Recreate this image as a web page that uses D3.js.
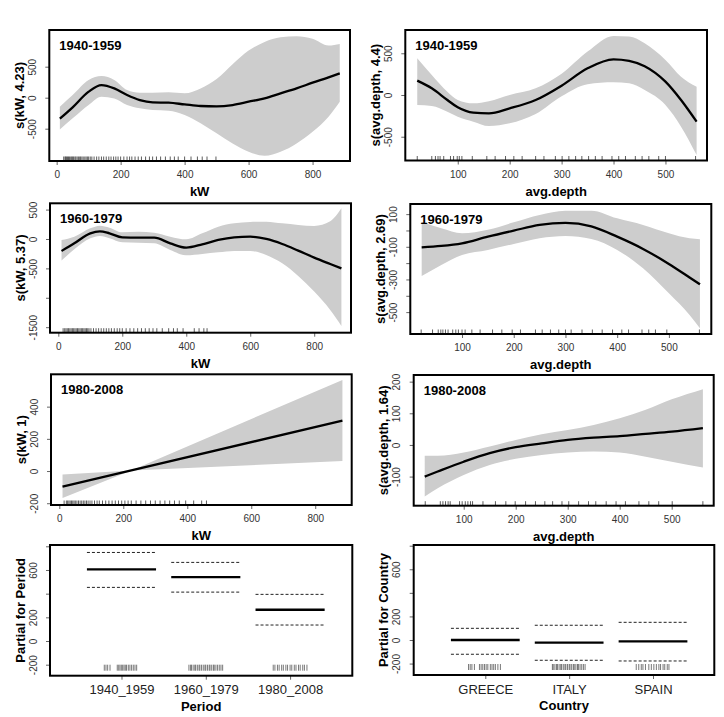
<!DOCTYPE html>
<html><head><meta charset="utf-8">
<script src="https://cdn.jsdelivr.net/npm/d3@7"></script>
<style>body{margin:0;background:#fff} text{font-family:"Liberation Sans",Arial,Helvetica,sans-serif}</style>
</head><body><svg id="c" width="724" height="717"></svg>
<script>
// ---------- data ----------
const periods = ["1940-1959", "1960-1979", "1980-2008"];
const kwTicks = [0, 200, 400, 600, 800];
const depthTicks = [100, 200, 300, 400, 500];

// kW smooth, 1940-1959
const kw1X   = [10, 50, 100, 140, 180, 220, 260, 300, 350, 400, 450, 500, 550, 600, 650, 700, 750, 800, 850, 885];
const kw1Fit = [-339, -156, 97, 204, 151, 43, -38, -75, -81, -108, -134, -140, -118, -65, -11, 70, 151, 242, 328, 392];
const kw1Up  = [-145, 43, 285, 349, 285, 124, 81, 81, 86, 70, 150, 300, 540, 760, 900, 975, 990, 950, 840, 866];
const kw1Lo  = [-511, -333, -118, 16, -11, -118, -172, -199, -210, -280, -414, -575, -737, -871, -935, -871, -737, -548, -306, -65];
const kw1Rug = [22, 26, 28, 31, 34, 37, 40, 44, 47, 50, 53, 57, 60, 64, 68, 72, 75, 79, 83, 88, 92, 96, 100, 105, 110, 117, 125, 132, 140, 147, 155, 163, 170, 178, 185, 192, 200, 210, 220, 228, 235, 245, 255, 265, 278, 290, 300, 312, 325, 340, 355, 368, 380, 400, 420, 440, 455, 470, 498];

// avg.depth smooth, 1940-1959
const dp1X   = [22, 50, 80, 100, 130, 160, 200, 250, 300, 350, 400, 430, 460, 500, 530, 560];
const dp1Fit = [172, 80, -60, -148, -212, -220, -160, -60, 112, 320, 428, 410, 345, 160, -60, -320];
const dp1Up  = [440, 240, 40, -60, -100, -75, 0, 80, 255, 520, 708, 700, 620, 420, 220, 100];
const dp1Lo  = [-120, -132, -200, -260, -320, -372, -340, -228, -15, 130, 152, 140, 60, -120, -380, -720];
const dp1Rug = [22, 50, 57, 62, 66, 73, 86, 92, 99, 103, 108, 128, 156, 172, 192, 208, 224, 250, 266, 288, 301, 314, 327, 339, 352, 365, 378, 397, 410, 423, 442, 455, 468, 487, 500, 558];

// kW smooth, 1960-1979
const kw2X   = [10, 50, 100, 130, 160, 200, 250, 300, 350, 400, 450, 500, 550, 600, 650, 700, 750, 800, 850, 885];
const kw2Fit = [-204, -74, 96, 130, 96, 28, 23, 23, -74, -147, -91, -17, 28, 40, 0, -85, -198, -317, -425, -499];
const kw2Up  = [-17, 40, 181, 227, 193, 113, 125, 108, 40, -6, 96, 210, 266, 289, 295, 266, 238, 221, 300, 521];
const kw2Lo  = [-368, -176, 11, 51, 11, -57, -62, -74, -187, -278, -255, -227, -204, -204, -272, -414, -629, -895, -1207, -1479];
const kw2Rug = [15, 20, 24, 28, 32, 36, 40, 44, 48, 52, 56, 60, 64, 68, 72, 76, 80, 84, 88, 92, 96, 102, 110, 118, 126, 134, 142, 150, 158, 166, 175, 184, 192, 200, 212, 224, 236, 248, 260, 272, 284, 296, 308, 325, 345, 360, 372, 390, 425, 440, 455, 465];

// avg.depth smooth, 1960-1979
const dp2X   = [22, 60, 100, 150, 200, 250, 300, 350, 400, 450, 500, 540, 560];
const dp2Fit = [-103, -95, -79, -38, -1, 34, 46, 25, -38, -113, -205, -288, -330];
const dp2Up  = [54, 13, -17, 5, 50, 95, 121, 121, 74, 34, -17, -48, -54];
const dp2Lo  = [-279, -211, -150, -119, -83, -48, -34, -52, -119, -232, -385, -517, -599];
const dp2Rug = [21, 43, 54, 59, 63, 68, 73, 82, 88, 93, 100, 106, 119, 135, 159, 177, 197, 213, 242, 255, 271, 287, 300, 311, 332, 352, 371, 391, 409, 422, 448, 461, 474, 496, 559];

// kW smooth, 1980-2008 (linear)
const kw3X   = [10, 225, 885];
const kw3Fit = [-97, 4, 313];
const kw3Up  = [-21, 4, 566];
const kw3Lo  = [-168, 4, 62];
const kw3Rug = [15, 22, 26, 30, 34, 38, 42, 46, 50, 55, 60, 65, 70, 75, 80, 85, 90, 96, 102, 110, 118, 125, 135, 145, 155, 165, 175, 185, 195, 205, 215, 225, 240, 255, 270, 285, 300, 315, 330, 345, 360, 375, 395, 420, 445, 460];

// avg.depth smooth, 1980-2008
const dp3X   = [25, 50, 100, 150, 200, 250, 300, 350, 400, 450, 500, 560];
const dp3Fit = [-100, -84, -53, -26, -7, 5, 16, 23, 28, 35, 42, 53];
const dp3Up  = [-34, -34, -24, -5, 16, 34, 47, 63, 84, 111, 144, 176];
const dp3Lo  = [-163, -137, -95, -63, -44, -32, -24, -21, -24, -37, -53, -71];
const dp3Rug = [26, 55, 60, 65, 70, 74, 92, 97, 103, 108, 113, 117, 137, 161, 181, 199, 219, 238, 256, 271, 289, 302, 321, 340, 354, 374, 393, 411, 437, 456, 475, 501, 560];

// factor terms
const periodLevels = ["1940_1959", "1960_1979", "1980_2008"];
const periodFit = [605, 540, 264];
const periodUp  = [748, 664, 394];
const periodLo  = [453, 413, 135];
const periodRug = [0.796, 0.816, 0.836, 0.864, 0.95, 0.967, 0.982, 0.998, 1.014, 1.03, 1.045, 1.06, 1.081, 1.10, 1.12, 1.14, 1.16, 1.18,
  1.80, 1.82, 1.83, 1.85, 1.87, 1.88, 1.90, 1.92, 1.93, 1.95, 1.97, 1.99, 2.00, 2.02, 2.04, 2.05, 2.07, 2.09, 2.10, 2.12, 2.14, 2.16, 2.18, 2.20,
  2.80, 2.82, 2.85, 2.87, 2.90, 2.92, 2.95, 2.97, 3.00, 3.02, 3.05, 3.07, 3.10, 3.12, 3.15, 3.17, 3.20];

const countryLevels = ["GREECE", "ITALY", "SPAIN"];
const countryFit = [0, -23, -11];
const countryUp  = [99, 125, 150];
const countryLo  = [-121, -172, -178];
const countryRug = [0.80, 0.82, 0.84, 0.87, 0.93, 0.95, 0.97, 0.99, 1.01, 1.03, 1.06, 1.08, 1.10, 1.12, 1.15, 1.18,
  1.80, 1.81, 1.83, 1.85, 1.86, 1.88, 1.90, 1.91, 1.93, 1.95, 1.96, 1.98, 2.00, 2.01, 2.03, 2.05, 2.06, 2.08, 2.10, 2.11, 2.13, 2.15, 2.17, 2.19,
  2.80, 2.83, 2.86, 2.88, 2.91, 2.95, 2.98, 3.01, 3.04, 3.07, 3.09, 3.12, 3.14, 3.17, 3.19];

const yLabels = ["s(kW, 4.23)", "s(avg.depth, 4.4)", "s(kW, 5.37)", "s(avg.depth, 2.69)", "s(kW, 1)", "s(avg.depth, 1.64)", "Partial for Period", "Partial for Country"];

// y tick values and labels per panel
const yt1 = [-500, 0, 500];
const yt2 = [-500, 0, 500];
const yt3 = [500, 0, -500, -1000, -1500];  const yt3L = ["500", "0", "-500", "", "-1500"];
const yt4 = [100, 0, -100, -200, -300, -400, -500]; const yt4L = ["100", "", "-100", "", "-300", "", "-500"];
const yt5 = [-200, 0, 200, 400];
const yt6 = [-100, 0, 100, 200];
const ytF = [-200, 0, 200, 400, 600, 800]; const ytFL = ["-200", "0", "200", "", "600", ""];

// ---------- layout ----------
const panels = [
  {box:[49.3,30,350,161],    xd:[-23,917],   yd:[-1021,1092], x:kw1X, fit:kw1Fit, up:kw1Up, lo:kw1Lo, rug:kw1Rug, xt:kwTicks, yt:yt1, title:periods[0], xlab:"kW", ylab:yLabels[0]},
  {box:[405.3,30,707,160.5], xd:[-1,580],    yd:[-785,779],   x:dp1X, fit:dp1Fit, up:dp1Up, lo:dp1Lo, rug:dp1Rug, xt:depthTicks, yt:yt2, title:periods[0], xlab:"avg.depth", ylab:yLabels[1]},
  {box:[50,203.3,351,332.7], xd:[-26,915],   yd:[-1594,607],  x:kw2X, fit:kw2Fit, up:kw2Up, lo:kw2Lo, rug:kw2Rug, xt:kwTicks, yt:yt3, ytl:yt3L, title:periods[1], xlab:"kW", ylab:yLabels[2]},
  {box:[410.3,204,711.3,334],xd:[0,582],     yd:[-634,162],   x:dp2X, fit:dp2Fit, up:dp2Up, lo:dp2Lo, rug:dp2Rug, xt:depthTicks, yt:yt4, ytl:yt4L, title:periods[1], xlab:"avg.depth", ylab:yLabels[3]},
  {box:[51,374.3,351.7,505], xd:[-26,914],   yd:[-211,601],   x:kw3X, fit:kw3Fit, up:kw3Up, lo:kw3Lo, rug:kw3Rug, xt:kwTicks, yt:yt5, title:periods[2], xlab:"kW", ylab:yLabels[4], linear:true},
  {box:[413.7,375,713.7,505.7], xd:[3.8,580.8], yd:[-192,221], x:dp3X, fit:dp3Fit, up:dp3Up, lo:dp3Lo, rug:dp3Rug, xt:depthTicks, yt:yt6, title:periods[2], xlab:"avg.depth", ylab:yLabels[5]},
  {box:[50,545,352.3,675.7], xd:[0.152,3.738], yd:[-293,811], factor:true, levels:periodLevels, fit:periodFit, up:periodUp, lo:periodLo, rug:periodRug, yt:ytF, ytl:ytFL, xlab:"Period", ylab:yLabels[6]},
  {box:[413.7,545,714.3,675], xd:[0.146,3.731], yd:[-297,806], factor:true, levels:countryLevels, fit:countryFit, up:countryUp, lo:countryLo, rug:countryRug, yt:ytF, ytl:ytFL, xlab:"Country", ylab:yLabels[7]}
];

const svg = d3.select("#c");
const FONT = '"Liberation Sans",Arial,Helvetica,sans-serif';

panels.forEach((p, i) => {
  const [x0, y0, x1, y1] = p.box;
  const xs = d3.scaleLinear().domain(p.xd).range([x0, x1]);
  const ys = d3.scaleLinear().domain(p.yd).range([y1, y0]);
  const g = svg.append("g");
  const clipId = "clip" + i;
  svg.append("clipPath").attr("id", clipId).append("rect")
    .attr("x", x0).attr("y", y0).attr("width", x1 - x0).attr("height", y1 - y0);
  const inner = g.append("g").attr("clip-path", `url(#${clipId})`);

  if (!p.factor) {
    const pts = p.x.map((v, k) => ({x: v, f: p.fit[k], u: p.up[k], l: p.lo[k]}));
    const curve = p.linear ? d3.curveLinear : d3.curveMonotoneX;
    inner.append("path").datum(pts)
      .attr("d", d3.area().x(d => xs(d.x)).y0(d => ys(d.l)).y1(d => ys(d.u)).curve(curve))
      .attr("fill", "#cdcdcd");
    inner.append("path").datum(pts)
      .attr("d", d3.line().x(d => xs(d.x)).y(d => ys(d.f)).curve(curve))
      .attr("fill", "none").attr("stroke", "#000").attr("stroke-width", 2.3);
    // rug
    inner.selectAll("line.rug").data(p.rug).enter().append("line")
      .attr("x1", d => xs(d)).attr("x2", d => xs(d))
      .attr("y1", y1).attr("y2", y1 - 4.5)
      .attr("stroke", "#333").attr("stroke-width", 0.8);
    // x axis
    const ax = d3.axisBottom(xs).tickValues(p.xt).tickSize(4).tickPadding(4).tickFormat(d3.format("d"));
    const axg = g.append("g").attr("transform", `translate(0,${y1})`).call(ax);
    axg.select(".domain").remove();
    axg.selectAll("line").attr("stroke", "#666");
    axg.selectAll("text").attr("font-size", 10).attr("fill", "#333").attr("font-family", FONT)
      .attr("dy", null).attr("y", 17);
    // panel title
    g.append("text").attr("x", x0 + 10).attr("y", y0 + 19.5)
      .attr("font-size", 13).attr("font-weight", "bold").attr("font-family", FONT)
      .text(p.title);
  } else {
    const lv = p.levels.map((name, k) => ({k: k + 1, name, f: p.fit[k], u: p.up[k], l: p.lo[k]}));
    lv.forEach(d => {
      inner.append("line").attr("x1", xs(d.k - 0.41)).attr("x2", xs(d.k + 0.41))
        .attr("y1", ys(d.f)).attr("y2", ys(d.f)).attr("stroke", "#000").attr("stroke-width", 2.3);
      [d.u, d.l].forEach(v => {
        inner.append("line").attr("x1", xs(d.k - 0.41)).attr("x2", xs(d.k + 0.41))
          .attr("y1", ys(v)).attr("y2", ys(v)).attr("stroke", "#222").attr("stroke-width", 1)
          .attr("stroke-dasharray", "3,2");
      });
    });
    inner.selectAll("line.rug").data(p.rug).enter().append("line")
      .attr("x1", d => xs(d)).attr("x2", d => xs(d))
      .attr("y1", y1 - 5).attr("y2", y1 - 11)
      .attr("stroke", "#555").attr("stroke-width", 0.8);
    const ax = d3.axisBottom(xs).tickValues(lv.map(d => d.k)).tickSize(4).tickPadding(4)
      .tickFormat(k => p.levels[k - 1]);
    const axg = g.append("g").attr("transform", `translate(0,${y1})`).call(ax);
    axg.select(".domain").remove();
    axg.selectAll("line").attr("stroke", "#666");
    axg.selectAll("text").attr("font-size", 13).attr("fill", "#222").attr("font-family", FONT)
      .attr("dy", null).attr("y", 18.5);
  }

  // y axis
  const ylab = p.ytl ? (v => p.ytl[p.yt.indexOf(v)]) : (v => String(v));
  const ay = d3.axisLeft(ys).tickValues(p.yt).tickSize(4).tickFormat(ylab);
  const ayg = g.append("g").attr("transform", `translate(${x0},0)`).call(ay);
  ayg.select(".domain").remove();
  ayg.selectAll("line").attr("stroke", "#666");
  ayg.selectAll("text").attr("font-size", 10).attr("fill", "#333").attr("font-family", FONT)
    .attr("dy", null).attr("x", 0).attr("y", -13.5)
    .attr("text-anchor", "middle").attr("transform", "rotate(-90)");

  // box
  g.append("rect").attr("x", x0).attr("y", y0).attr("width", x1 - x0).attr("height", y1 - y0)
    .attr("fill", "none").attr("stroke", "#000").attr("stroke-width", 2);

  // axis titles
  g.append("text").attr("x", (x0 + x1) / 2).attr("y", y1 + 35.3)
    .attr("text-anchor", "middle").attr("font-size", 13).attr("font-weight", "bold").attr("font-family", FONT)
    .text(p.xlab);
  g.append("text").attr("transform", `translate(${x0 - 25.5},${(y0 + y1) / 2}) rotate(-90)`)
    .attr("text-anchor", "middle").attr("font-size", 13).attr("font-weight", "bold").attr("font-family", FONT)
    .text(p.ylab);
});
</script></body></html>
